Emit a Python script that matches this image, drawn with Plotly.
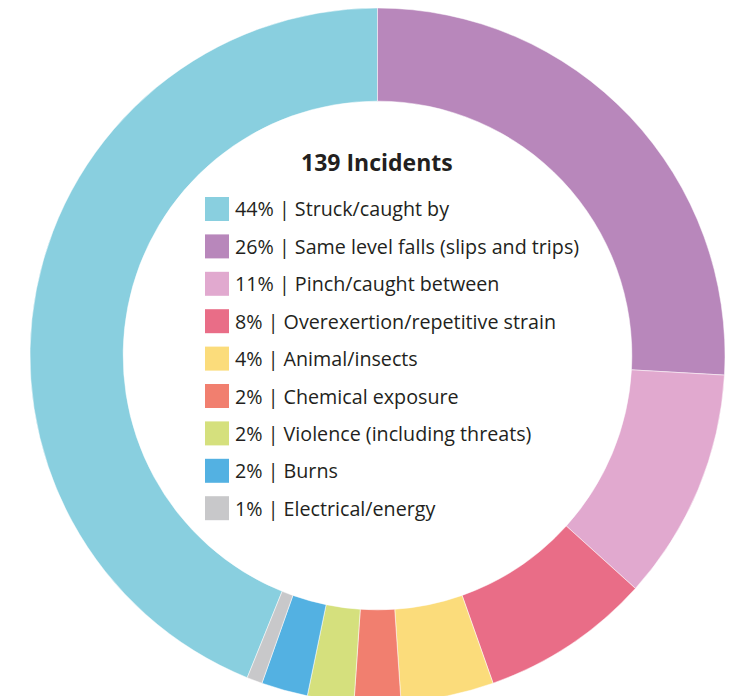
import plotly.graph_objects as go

# incident categories, counts (139 total) and colours
categories = [
    "Struck/caught by",
    "Same level falls (slips and trips)",
    "Pinch/caught between",
    "Overexertion/repetitive strain",
    "Animal/insects",
    "Chemical exposure",
    "Violence (including threats)",
    "Burns",
    "Electrical/energy",
]
counts = [61, 36, 15, 11, 6, 3, 3, 3, 1]
pct_labels = ["44%", "26%", "11%", "8%", "4%", "2%", "2%", "2%", "1%"]
colors = ["#89CFDF", "#B887BB", "#E1A9CF", "#E96D87", "#FBDC7B",
          "#F17F6F", "#D5E07D", "#53B1E2", "#C8C8CA"]

# page body has an 8px margin, so the figure starts at (8, 8)
OFF = 8
W, H = 741, 696
FONT = "Open Sans"
TEXT_COLOR = "#231F20"
total = sum(counts)


def px(x):
    return (x - OFF) / W


def py(y):
    return 1 - (y - OFF) / H


fig = go.Figure(
    go.Pie(
        labels=categories,
        values=counts,
        hole=0.732,
        sort=False,
        direction="clockwise",
        # first slice ends at 12 o'clock
        rotation=-counts[0] / total * 360,
        marker=dict(colors=colors, line=dict(color="white", width=0.5)),
        textinfo="none",
        hovertemplate="%{label}<br>%{value} incidents (%{percent})<extra></extra>",
        domain=dict(x=[px(30), px(725)], y=[py(703), py(8)]),
        showlegend=False,
    )
)

# centre label
annotations = [dict(
    x=px(377), y=py(162), xref="paper", yref="paper",
    text=f"<b>{total} Incidents</b>", showarrow=False,
    xanchor="center", yanchor="middle",
    font=dict(family=FONT, size=23, color=TEXT_COLOR),
)]

# custom legend inside the hole
shapes = []
row_gap = 37.4
for i, (cat, pct, col) in enumerate(zip(categories, pct_labels, colors)):
    yc = 209 + i * row_gap
    shapes.append(dict(
        type="rect", xref="paper", yref="paper",
        x0=px(205), x1=px(229), y0=py(yc - 12), y1=py(yc + 12),
        fillcolor=col, line=dict(width=0),
    ))
    annotations.append(dict(
        x=px(233), y=py(yc), xref="paper", yref="paper",
        text=f"{pct} | {cat}", showarrow=False,
        xanchor="left", yanchor="middle",
        font=dict(family=FONT, size=19.7, color=TEXT_COLOR),
    ))

fig.update_layout(
    width=W, height=H,
    margin=dict(l=0, r=0, t=0, b=0),
    paper_bgcolor="white",
    plot_bgcolor="white",
    annotations=annotations,
    shapes=shapes,
)

fig.write_html("out.html")
